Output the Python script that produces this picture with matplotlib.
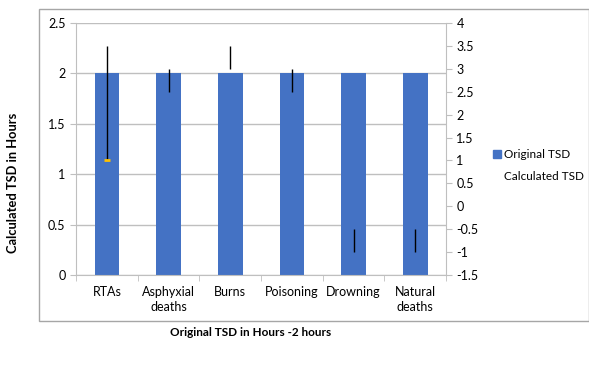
import matplotlib
matplotlib.use("Agg")
import matplotlib.pyplot as plt
import matplotlib.patches as mpatches
import numpy as np

plt.rcParams["font.family"] = ["Lato", "DejaVu Sans"]

categories = ["RTAs", "Asphyxial\ndeaths", "Burns", "Poisoning", "Drowning", "Natural\ndeaths"]
original_tsd = [2, 2, 2, 2, 2, 2]
# Calculated TSD range (right axis)
calc_low = [1.0, 2.5, 3.0, 2.5, -1.0, -1.0]
calc_high = [3.5, 3.0, 3.5, 3.0, -0.5, -0.5]
calc_marker = [1.0]  # the small yellow mark on RTAs

BLUE = "#4472C4"
GRID = "#BFBFBF"

fig = plt.figure(figsize=(5.89, 3.68), dpi=100)
ax = fig.add_axes([76 / 589, 1 - 275 / 368, 370 / 589, 252 / 368])

# outer chart-area border
border = mpatches.Rectangle((39 / 589, 1 - 321 / 368), 1 - 39 / 589 - 0.5 / 589, 312 / 368,
                            transform=fig.transFigure, fill=False,
                            edgecolor="#A6A6A6", lw=1.0)
fig.add_artist(border)

x = np.arange(len(categories))
ax.bar(x, original_tsd, width=0.4, color=BLUE, zorder=2, label="Original TSD")
ax.set_xlim(-0.5, len(categories) - 0.5)
ax.set_ylim(0, 2.5)
ax.set_yticks(np.arange(0, 2.51, 0.5))
ax.set_yticklabels(["0", "0.5", "1", "1.5", "2", "2.5"])
ax.yaxis.grid(True, color=GRID, lw=1, zorder=0)
ax.set_axisbelow(True)

ax.set_xticks(x)
ax.set_xticklabels(categories, fontsize=9, linespacing=1.25)
ax.set_xticks(np.arange(-0.5, len(categories)), minor=True)
ax.tick_params(axis="x", which="major", length=0, pad=8)
ax.tick_params(axis="x", which="minor", length=4, color=GRID)
ax.tick_params(axis="y", labelsize=9, length=4, color=GRID)
for side in ["top", "right"]:
    ax.spines[side].set_visible(False)
ax.spines["left"].set_color(GRID)
ax.spines["bottom"].set_color(GRID)

ax2 = ax.twinx()
ax2.set_ylim(-1.5, 4)
ax2.set_yticks(np.arange(-1.5, 4.01, 0.5))
ax2.set_yticklabels(["-1.5", "-1", "-0.5", "0", "0.5", "1", "1.5", "2", "2.5",
                     "3", "3.5", "4"])
ax2.tick_params(axis="y", labelsize=9, length=4, color=GRID)
for side in ["top", "left", "bottom"]:
    ax2.spines[side].set_visible(False)
ax2.spines["right"].set_color(GRID)

mid = (np.array(calc_low) + np.array(calc_high)) / 2
half = (np.array(calc_high) - np.array(calc_low)) / 2
ax2.errorbar(x, mid, yerr=half, fmt="none", ecolor="black", elinewidth=1.0,
             capsize=0, zorder=3)
ax2.plot(x[:1], calc_marker, marker="_", color="#FFC000", markersize=5,
         markeredgewidth=2, ls="none", zorder=4)

ax.set_ylabel("Calculated TSD in Hours", fontsize=9.3, fontweight="bold")
ax.yaxis.set_label_coords(-57 / 370, 0.365)
fig.text(251 / 589, 1 - 332 / 368, "Original TSD in Hours -2 hours",
         ha="center", va="center", fontsize=8.5, fontweight="bold")

# legend
fig.add_artist(mpatches.Rectangle((493 / 589, 1 - 158 / 368), 8 / 589, 8 / 368,
                                  transform=fig.transFigure, color=BLUE))
fig.text(504 / 589, 1 - 154 / 368, "Original TSD", fontsize=8.5, va="center")
fig.text(504 / 589, 1 - 176 / 368, "Calculated TSD", fontsize=8.5, va="center")

fig.savefig("out.png", dpi=100)
